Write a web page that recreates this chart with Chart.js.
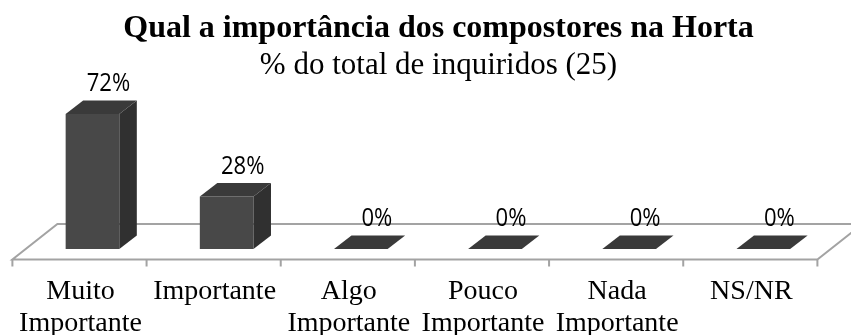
<!DOCTYPE html>
<html>
<head>
<meta charset="utf-8">
<script src="https://cdn.jsdelivr.net/npm/chart.js@4"></script>
<style>
  body { margin: 0; background: #fff; }
  canvas { display: block; }
</style>
</head>
<body>
<canvas id="chart" width="851" height="335"></canvas>
<script>
const chartTitle = "Qual a importância dos compostores na Horta";
const chartSubtitle = "% do total de inquiridos (25)";
const categories = [
  ["Muito", "Importante"],
  "Importante",
  ["Algo", "Importante"],
  ["Pouco", "Importante"],
  ["Nada", "Importante"],
  "NS/NR"
];
const percentages = [72, 28, 0, 0, 0, 0];

// fake 3D: depth of each box and where the floor sits relative to the bar base
const depthX = 17.5, depthY = -13.5;
const floorDX = -13, floorDY = 10.5, floorDepthX = 45, floorDepthY = -35.5;

function poly(ctx, pts, color) {
  ctx.beginPath();
  ctx.moveTo(pts[0][0], pts[0][1]);
  for (let i = 1; i < pts.length; i++) ctx.lineTo(pts[i][0], pts[i][1]);
  ctx.closePath();
  ctx.fillStyle = color;
  ctx.fill();
}

const box3d = {
  id: "box3d",
  beforeDatasetsDraw(chart) {
    const ctx = chart.ctx;
    const xs = chart.scales.x, ys = chart.scales.y;
    const base = ys.getPixelForValue(0);
    const left = xs.left + floorDX, right = xs.right + floorDX;
    const front = base + floorDY, back = front + floorDepthY;
    ctx.save();
    ctx.strokeStyle = "#a3a3a3";
    ctx.lineWidth = 2;
    ctx.beginPath();
    ctx.moveTo(left, front);
    ctx.lineTo(right, front);
    ctx.lineTo(right + floorDepthX, back);
    ctx.lineTo(left + floorDepthX, back);
    ctx.closePath();
    ctx.stroke();
    // tick marks on the front edge
    const step = (right - left) / categories.length;
    ctx.beginPath();
    for (let i = 0; i <= categories.length; i++) {
      const tx = left + i * step;
      ctx.moveTo(tx, front);
      ctx.lineTo(tx, front + 7);
    }
    ctx.stroke();
    ctx.restore();
  },
  afterDatasetsDraw(chart) {
    const ctx = chart.ctx;
    const meta = chart.getDatasetMeta(0);
    ctx.save();
    meta.data.forEach((bar, i) => {
      const p = bar.getProps(["x", "y", "base", "width"], true);
      const x0 = p.x - p.width / 2, x1 = p.x + p.width / 2;
      const top = p.y, bottom = p.base;
      if (bottom - top > 0.5) {
        poly(ctx, [[x1, top], [x1 + depthX, top + depthY], [x1 + depthX, bottom + depthY], [x1, bottom]], "#303030");
      }
      poly(ctx, [[x0, top], [x0 + depthX, top + depthY], [x1 + depthX, top + depthY], [x1, top]], "#3a3a3a");

      // value label, a bit taller than the plain font
      ctx.save();
      ctx.translate(p.x + 16, top - 23);
      ctx.scale(0.96, 1.14);
      ctx.fillStyle = "#000";
      ctx.font = '23px "Open Sans"';
      ctx.textAlign = "center";
      ctx.textBaseline = "alphabetic";
      ctx.fillText(percentages[i] + "%", 0, 0);
      ctx.restore();
    });
    ctx.restore();
  },
  afterDraw(chart) {
    const ctx = chart.ctx;
    ctx.save();
    ctx.fillStyle = "#000";
    ctx.textAlign = "center";
    ctx.textBaseline = "alphabetic";
    ctx.font = 'bold 32px "Liberation Serif"';
    ctx.fillText(chartTitle, 438.5, 36.7);
    ctx.font = '31px "Liberation Serif"';
    ctx.fillText(chartSubtitle, 438.5, 74);
    ctx.restore();
  }
};

new Chart(document.getElementById("chart"), {
  type: "bar",
  data: {
    labels: categories,
    datasets: [{
      data: percentages,
      backgroundColor: "#484848",
      borderWidth: 0,
      categoryPercentage: 1,
      barPercentage: 0.4
    }]
  },
  options: {
    responsive: false,
    animation: false,
    devicePixelRatio: 1,
    layout: { padding: { left: 25.4, right: 20.6, top: 99, bottom: 0 } },
    plugins: {
      legend: { display: false },
      tooltip: { enabled: false }
    },
    scales: {
      x: {
        grid: { display: false, drawTicks: false },
        border: { display: false },
        ticks: {
          color: "#000",
          font: { family: "Liberation Serif", size: 28, lineHeight: 1.16 },
          padding: 26,
          labelOffset: -12,
          maxRotation: 0,
          autoSkip: false
        },
        afterFit(scale) { scale.height = 86; }
      },
      y: {
        display: false,
        min: 0,
        max: 80
      }
    }
  },
  plugins: [box3d]
});
</script>
</body>
</html>
